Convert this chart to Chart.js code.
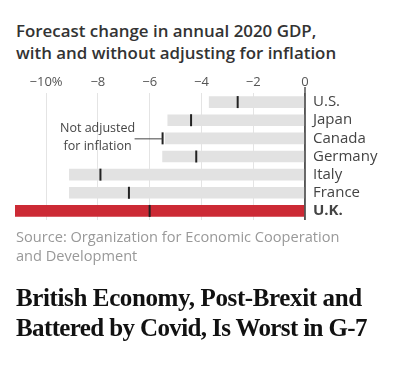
<!DOCTYPE html>
<html>
<head>
<meta charset="utf-8">
<script src="https://cdn.jsdelivr.net/npm/chart.js@4/dist/chart.umd.min.js"></script>
<style>
  html, body { margin: 0; padding: 0; background: #fff; }
  body { width: 400px; height: 377px; position: relative; overflow: hidden; }
  #title { position: absolute; left: 16px; top: 20px; font: 600 16.9px "Open Sans", sans-serif; line-height: 21.6px; color: #333; white-space: nowrap; }
  #source { position: absolute; left: 16px; top: 227px; font: 400 14.6px "Open Sans", sans-serif; line-height: 18.5px; color: #999; white-space: nowrap; }
  #headline { position: absolute; left: 16px; top: 283px; font: 700 25px "Liberation Serif", serif; letter-spacing: -0.38px; line-height: 30px; color: #111; white-space: nowrap; }
  #headline .l2 { letter-spacing: -0.62px; }
  #wrap { position: absolute; left: 0; top: 68px; width: 400px; height: 160px; }
</style>
</head>
<body>
<div id="title">Forecast change in annual 2020 GDP,<br>with and without adjusting for inflation</div>
<div id="wrap"><canvas id="c" width="400" height="160"></canvas></div>
<div id="source">Source: Organization for Economic Cooperation<br>and Development</div>
<div id="headline">British Economy, Post-Brexit and<br><span class="l2">Battered by Covid, Is Worst in G-7</span></div>
<script>
const categories = ['U.S.', 'Japan', 'Canada', 'Germany', 'Italy', 'France', 'U.K.'];
const adjusted = [-3.7, -5.3, -5.4, -5.5, -9.1, -9.1, -11.2];
const notAdjusted = [-2.6, -4.4, -5.5, -4.2, -7.9, -6.8, -6.0];
const tickValues = [-10, -8, -6, -4, -2, 0];
const tickLabels = ['\u221210%', '\u22128', '\u22126', '\u22124', '\u22122', '0'];
const annotationLines = ['Not adjusted', 'for inflation'];
const annotationIndex = 2;

const annotationPlugin = {
  id: 'annot',
  afterDatasetsDraw(chart) {
    const ctx = chart.ctx;
    const xs = chart.scales.x, ys = chart.scales.y;
    const area = chart.chartArea;
    const yMid = ys.getPixelForValue(annotationIndex);
    const markX = xs.getPixelForValue(notAdjusted[annotationIndex]);
    const zeroX = xs.getPixelForValue(0);
    ctx.save();
    ctx.strokeStyle = '#555';
    ctx.lineWidth = 1.5;
    ctx.beginPath();
    ctx.moveTo(zeroX, area.top - 6);
    ctx.lineTo(zeroX, area.bottom);
    ctx.stroke();
    ctx.font = '400 12.5px "Open Sans", sans-serif';
    ctx.fillStyle = '#444';
    ctx.textAlign = 'center';
    ctx.textBaseline = 'middle';
    const cx = markX - 65;
    ctx.fillText(annotationLines[0], cx, yMid - 10);
    ctx.fillText(annotationLines[1], cx, yMid + 8);
    ctx.strokeStyle = '#444';
    ctx.lineWidth = 1;
    ctx.beginPath();
    ctx.moveTo(markX - 28, yMid + 0.5);
    ctx.lineTo(markX, yMid + 0.5);
    ctx.stroke();
    ctx.restore();
  }
};

new Chart(document.getElementById('c'), {
  type: 'bar',
  data: {
    labels: categories,
    datasets: [
      {
        type: 'scatter',
        data: notAdjusted.map((v, i) => ({ x: v, y: categories[i] })),
        pointStyle: 'line',
        rotation: 90,
        radius: 6,
        borderWidth: 2,
        borderColor: '#222',
        backgroundColor: '#222',
        order: 0
      },
      {
        data: adjusted,
        backgroundColor: categories.map(c => c === 'U.K.' ? '#cc2a35' : '#e2e2e2'),
        barThickness: 11,
        order: 1
      }
    ]
  },
  options: {
    indexAxis: 'y',
    responsive: false,
    animation: false,
    devicePixelRatio: 1,
    layout: { padding: { left: 15, right: 0, top: 0, bottom: 8 } },
    plugins: { legend: { display: false }, tooltip: { enabled: false }, title: { display: false } },
    scales: {
      x: {
        position: 'top',
        min: -11.2,
        max: 0,
        afterBuildTicks(scale) { scale.ticks = tickValues.map(v => ({ value: v })); },
        afterFit(scale) { scale.height = 25; scale.paddingLeft = 0; scale.paddingRight = 0; },
        border: { display: false },
        grid: {
          drawTicks: false,
          color: ctx => (ctx.tick && ctx.tick.value === 0) ? '#555' : '#e4e4e4',
          lineWidth: ctx => (ctx.tick && ctx.tick.value === 0) ? 1.5 : 1
        },
        ticks: {
          padding: 3,
          color: '#555',
          font: { family: 'Open Sans', size: 13 },
          callback: (v) => { const i = tickValues.indexOf(v); return i >= 0 ? tickLabels[i] : ''; }
        }
      },
      y: {
        position: 'right',
        afterFit(scale) { scale.width = 95; scale.paddingTop = 0; scale.paddingBottom = 0; },
        border: { display: false },
        grid: { display: false, drawTicks: false },
        ticks: {
          autoSkip: false,
          padding: 8,
          crossAlign: 'near',
          color: '#444',
          font: ctx => ({ family: 'Open Sans', size: 15, weight: ctx.index === 6 ? '700' : '400' })
        }
      }
    }
  },
  plugins: [annotationPlugin]
});
</script>
</body>
</html>
